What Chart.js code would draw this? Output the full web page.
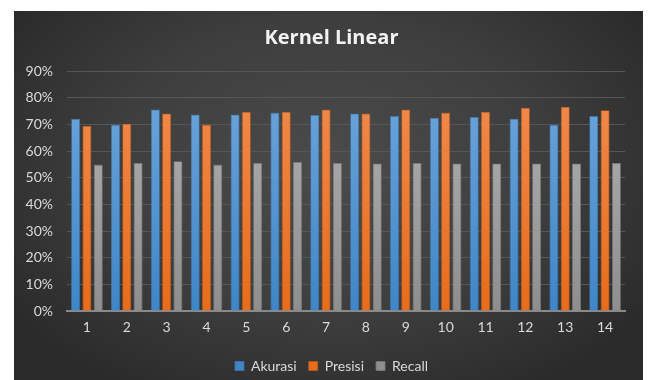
<!DOCTYPE html>
<html>
<head>
<meta charset="utf-8">
<script src="https://cdn.jsdelivr.net/npm/chart.js@4.4.1/dist/chart.umd.min.js"></script>
<style>
  html, body { margin: 0; padding: 0; background: #ffffff; }
  #wrap { position: relative; width: 649px; height: 380px; }
</style>
</head>
<body>
<div id="wrap"><canvas id="c" width="649" height="380"></canvas></div>
<script>
const categories = ['1','2','3','4','5','6','7','8','9','10','11','12','13','14'];
const akurasi = [0.721, 0.699, 0.756, 0.737, 0.737, 0.744, 0.735, 0.741, 0.731, 0.725, 0.728, 0.721, 0.699, 0.731];
const presisi = [0.695, 0.702, 0.741, 0.699, 0.747, 0.747, 0.756, 0.741, 0.756, 0.744, 0.747, 0.762, 0.766, 0.753];
const recall  = [0.549, 0.555, 0.562, 0.549, 0.555, 0.559, 0.555, 0.553, 0.555, 0.553, 0.553, 0.553, 0.553, 0.555];
const seriesNames = ['Akurasi', 'Presisi', 'Recall'];

function grad(top, bottom) {
  return (ctx) => {
    const ca = ctx.chart.chartArea;
    if (!ca) return bottom;
    const g = ctx.chart.ctx.createLinearGradient(0, ca.top, 0, ca.bottom);
    g.addColorStop(0, top);
    g.addColorStop(1, bottom);
    return g;
  };
}

const bgPlugin = {
  id: 'bg',
  beforeDraw(chart) {
    const c = chart.ctx;
    c.save();
    const x0 = 14, y0 = 11, w = 629, h = 369;
    c.fillStyle = '#2c2c2c';
    c.fillRect(x0, y0, w, h);
    const cx = x0 + w / 2, cy = y0 + h * 0.42;
    c.translate(cx, cy);
    c.scale(1, h / w * 1.15);
    const r = w * 0.62;
    const g = c.createRadialGradient(0, 0, 0, 0, 0, r);
    g.addColorStop(0, '#4b4b4b');
    g.addColorStop(0.55, '#3e3e3e');
    g.addColorStop(1, '#2a2a2a');
    c.fillStyle = g;
    c.fillRect(-r * 2, -r * 2, r * 4, r * 4);
    c.restore();
    c.save();
    c.beginPath();
    c.rect(0, 0, 649, y0);
    c.rect(0, 0, x0, 380);
    c.rect(x0 + w, 0, 649 - x0 - w, 380);
    c.fillStyle = '#ffffff';
    c.fill();
    c.restore();
  }
};

new Chart(document.getElementById('c'), {
  type: 'bar',
  data: {
    labels: categories,
    datasets: [
      { label: seriesNames[0], data: akurasi, backgroundColor: grad('#70a7dd', '#3e86c8'), borderColor: '#3f76a8', borderWidth: 0.8 },
      { label: seriesNames[1], data: presisi, backgroundColor: grad('#f28c50', '#e86c1a'), borderColor: '#b85a1c', borderWidth: 0.8 },
      { label: seriesNames[2], data: recall,  backgroundColor: grad('#b4b4b4', '#8e8e8e'), borderColor: '#7a7a7a', borderWidth: 0.8 }
    ]
  },
  options: {
    responsive: false,
    animation: false,
    devicePixelRatio: 1,
    layout: { padding: { left: 14, right: 0, top: 11, bottom: -3 } },
    datasets: { bar: { categoryPercentage: 0.85, barPercentage: 0.8 } },
    plugins: {
      title: {
        display: true,
        text: 'Kernel Linear',
        color: '#f2f2f2',
        font: { family: 'Open Sans', size: 20, weight: 'bold' },
        padding: { top: 15, bottom: 21 }
      },
      legend: {
        position: 'bottom',
        labels: {
          color: '#d9d9d9',
          font: { family: 'Lato', size: 14 },
          boxWidth: 9,
          boxHeight: 9,
          padding: 12,
          useBorderRadius: false
        }
      },
      tooltip: { enabled: false }
    },
    scales: {
      x: {
        grid: { display: false, drawTicks: false },
        border: { display: true, color: '#8a8a8a', width: 2 },
        ticks: { color: '#d9d9d9', font: { family: 'Lato', size: 14 }, padding: 8 },
        afterFit(scale) { scale.height = 36; }
      },
      y: {
        min: 0,
        max: 0.9,
        afterFit(scale) { scale.width = 53; },
        grid: { color: '#565656', lineWidth: 1, drawTicks: false },
        border: { display: false },
        ticks: {
          stepSize: 0.1,
          color: '#d9d9d9',
          font: { family: 'Lato', size: 14 },
          padding: 14,
          callback: (v) => Math.round(v * 100) + '%'
        }
      },
      yr: {
        type: 'linear',
        position: 'right',
        display: true,
        afterFit(scale) { scale.width = 24; },
        grid: { display: false, drawTicks: false },
        border: { display: false },
        ticks: { display: false }
      }
    }
  },
  plugins: [bgPlugin]
});
</script>
</body>
</html>
